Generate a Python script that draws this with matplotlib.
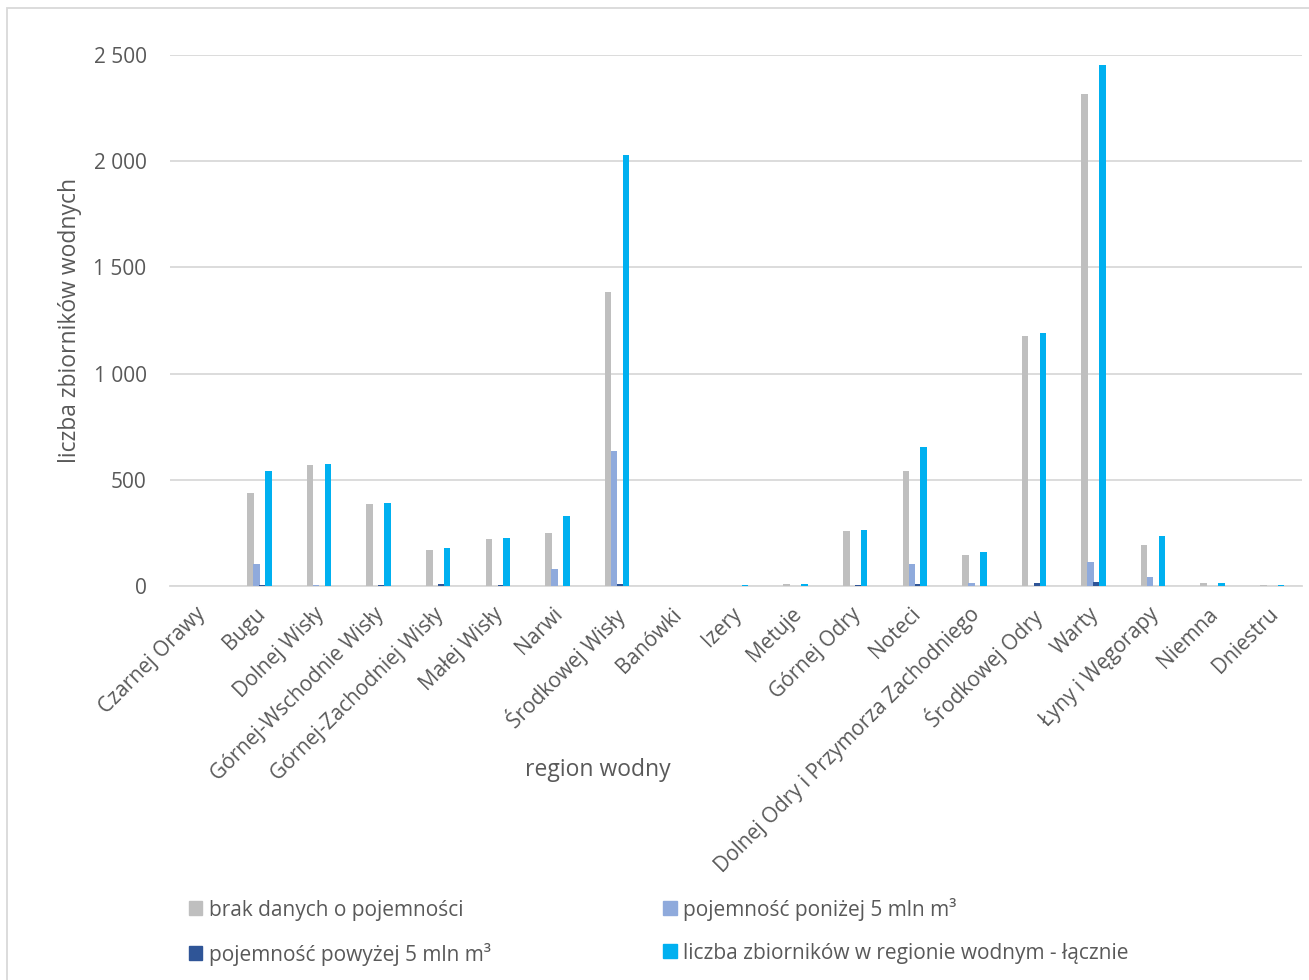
import numpy as np
import matplotlib
matplotlib.use("Agg")
import matplotlib.pyplot as plt
from matplotlib.patches import Patch, Rectangle
from matplotlib.ticker import FuncFormatter, MultipleLocator
from matplotlib.transforms import ScaledTranslation

plt.rcParams['font.family'] = ['Open Sans', 'DejaVu Sans']

regiony = ["Czarnej Orawy", "Bugu", "Dolnej Wisły", "Górnej-Wschodnie Wisły",
           "Górnej-Zachodniej Wisły", "Małej Wisły", "Narwi", "Środkowej Wisły",
           "Banówki", "Izery", "Metuje", "Górnej Odry", "Noteci",
           "Dolnej Odry i Przymorza Zachodniego", "Środkowej Odry", "Warty",
           "Łyny i Węgorapy", "Niemna", "Dniestru"]

brak_danych = [1, 438, 568, 386, 168, 220, 250, 1384, 1, 2, 9, 258, 541, 144, 1177, 2316, 193, 14, 4]
ponizej_5 = [0, 104, 3, 1, 0, 1, 79, 636, 0, 0, 0, 0, 104, 12, 0, 113, 41, 0, 0]
powyzej_5 = [0, 3, 1, 3, 8, 6, 0, 10, 0, 0, 0, 3, 9, 1, 14, 20, 1, 0, 0]
lacznie = [2, 543, 573, 391, 177, 227, 330, 2028, 1, 3, 8, 264, 656, 160, 1191, 2453, 234, 15, 5]

serie = [
    ("brak danych o pojemności", brak_danych, "#BFBFBF"),
    ("pojemność poniżej 5 mln m³", ponizej_5, "#8FAADC"),
    ("pojemność powyżej 5 mln m³", powyzej_5, "#2F5597"),
    ("liczba zbiorników w regionie wodnym - łącznie", lacznie, "#00B0F0"),
]

txt = "#595959"
fig = plt.figure(figsize=(13.09, 9.8), dpi=100)
ax = fig.add_axes([0.130, 0.402, 0.8647, 0.542])

x = np.arange(len(regiony))
for i, (lab, vals, col) in enumerate(serie):
    ax.bar(x + (i - 1.5) * 0.1, vals, width=0.11, color=col, zorder=3)

ax.set_xlim(-0.5, len(regiony) - 0.5)
ax.set_ylim(0, 2500)
ax.yaxis.set_major_locator(MultipleLocator(500))
ax.yaxis.set_major_formatter(FuncFormatter(lambda v, p: f"{int(v):,}".replace(",", " ")))
ax.grid(axis='y', color="#D9D9D9", lw=1.3, zorder=0)
for s in ["top", "right", "left"]:
    ax.spines[s].set_visible(False)
ax.spines["bottom"].set_color("#D9D9D9")
ax.spines["bottom"].set_linewidth(1.3)
ax.tick_params(length=0, colors=txt, labelsize=15)
ax.tick_params(axis='y', pad=17)
ax.set_xticks(x)
ax.set_xticklabels(regiony, rotation=45, ha='right', rotation_mode='anchor')
ax.tick_params(axis='x', pad=7)
przes = ScaledTranslation(-5 / 100, -8 / 100, fig.dpi_scale_trans)
for t in ax.get_xticklabels():
    t.set_transform(t.get_transform() + przes)

ax.set_ylabel("liczba zbiorników wodnych", fontsize=16.5, color=txt, labelpad=8)
fig.text(598 / 1309, 1 - 770 / 980, "region wodny", fontsize=16.5, color=txt,
         ha='center', va='center')

uchwyty = [Patch(color=c) for _, _, c in serie]
etykiety = [l for l, _, _ in serie]
kolej = [0, 2, 1, 3]
fig.legend([uchwyty[k] for k in kolej], [etykiety[k] for k in kolej], ncol=2,
           loc='upper left', bbox_to_anchor=(170 / 1309, 1 - 879 / 980), frameon=False,
           fontsize=15, labelcolor=txt, handlelength=0.65, handleheight=0.65,
           handletextpad=0.3, columnspacing=8.3, labelspacing=1.05)

fig.patches.append(Rectangle((7 / 1309, -0.05), 1.0, 1 - 8 / 980 + 0.05,
                             transform=fig.transFigure, fill=False,
                             edgecolor="#D9D9D9", lw=1.3))

fig.savefig("out.png", dpi=100)
